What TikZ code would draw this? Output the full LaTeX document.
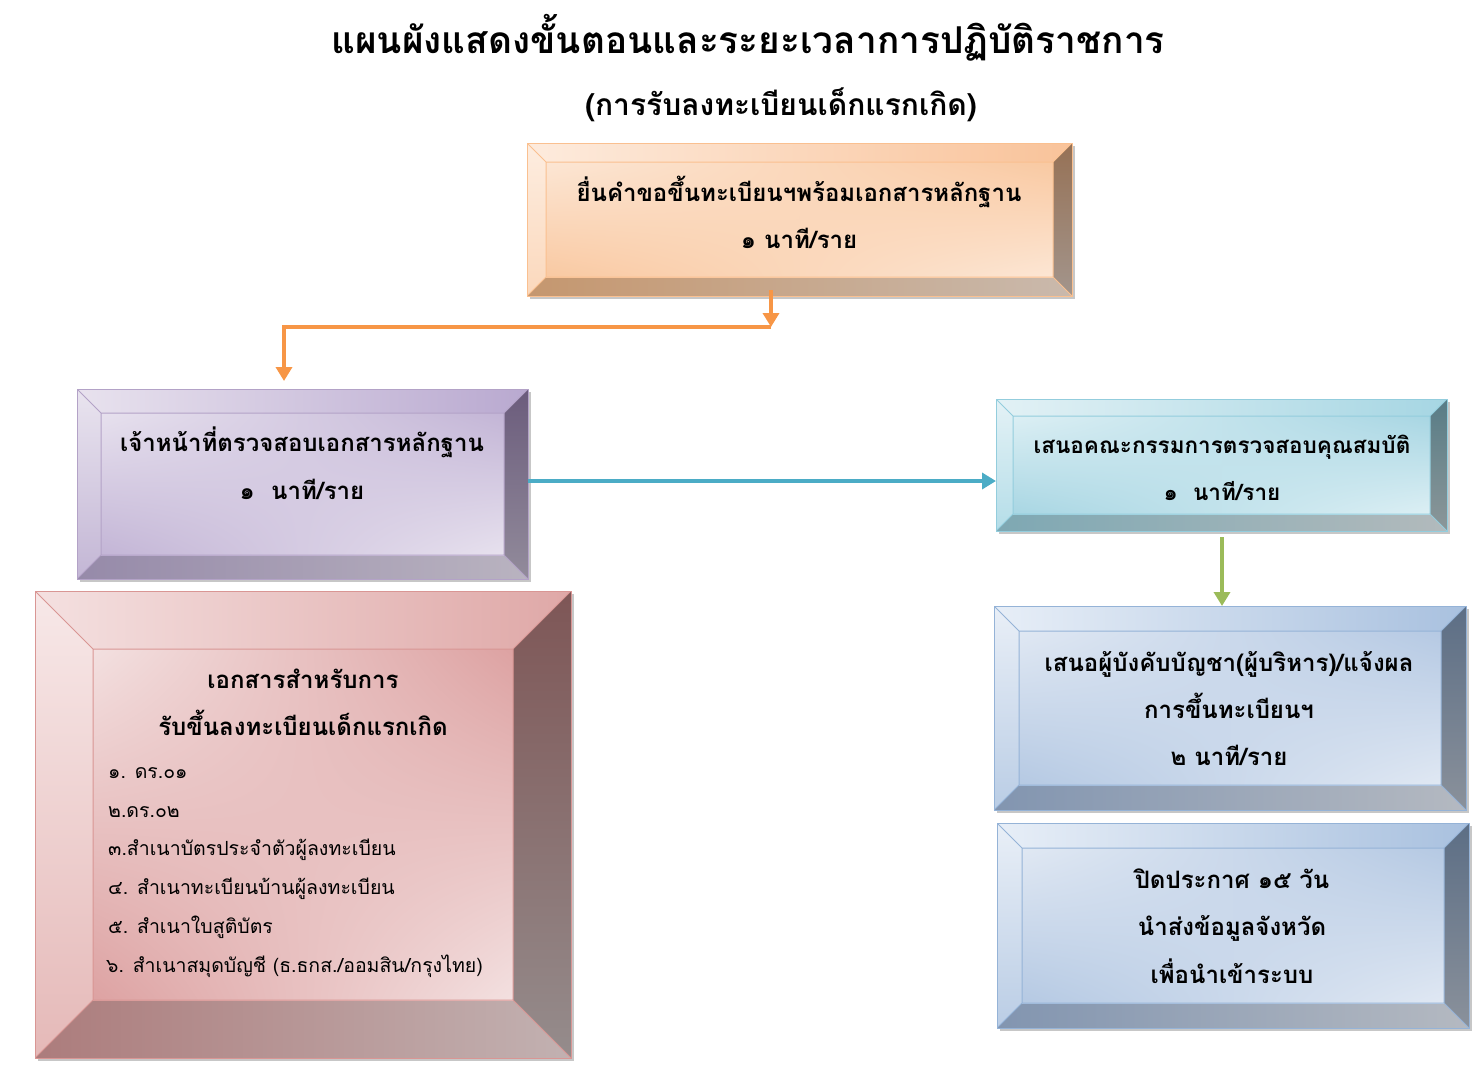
\documentclass[tikz,border=0pt]{standalone}
\usepackage{fontspec}
\newfontfamily\thai[Script=Thai]{Loma}
\usetikzlibrary{calc,shadows,shadings,arrows.meta}

% orange
\definecolor{orBd}{HTML}{FAC090}
\definecolor{orTa}{HTML}{FDEBDD}\definecolor{orTb}{HTML}{F9C39A}
\definecolor{orLa}{HTML}{FDEDE0}\definecolor{orLb}{HTML}{FBD8BC}
\definecolor{orRa}{HTML}{967155}\definecolor{orRb}{HTML}{A3958C}
\definecolor{orBa}{HTML}{C5976F}\definecolor{orBb}{HTML}{C9B9AC}
\definecolor{orIa}{HTML}{FCE6D4}\definecolor{orIb}{HTML}{F9C9A2}
% purple
\definecolor{puBd}{HTML}{B3A2C7}
\definecolor{puTa}{HTML}{E8E2EE}\definecolor{puTb}{HTML}{B9A9D0}
\definecolor{puLa}{HTML}{E9E4EF}\definecolor{puLb}{HTML}{C3B6D5}
\definecolor{puRa}{HTML}{6B5C7C}\definecolor{puRb}{HTML}{928B9B}
\definecolor{puBa}{HTML}{968AA9}\definecolor{puBb}{HTML}{B9B3C0}
\definecolor{puIa}{HTML}{E7E1EE}\definecolor{puIb}{HTML}{C3B5D6}
% pink
\definecolor{piBd}{HTML}{D99694}
\definecolor{piTa}{HTML}{F4E0E0}\definecolor{piTb}{HTML}{DFA8A7}
\definecolor{piLa}{HTML}{F7E8E8}\definecolor{piLb}{HTML}{E5B9B8}
\definecolor{piRa}{HTML}{7E5656}\definecolor{piRb}{HTML}{958C8C}
\definecolor{piBa}{HTML}{AC7C7C}\definecolor{piBb}{HTML}{C2B1B1}
\definecolor{piIa}{HTML}{F3E0E0}\definecolor{piIb}{HTML}{DDA2A2}
% cyan
\definecolor{cyBd}{HTML}{93CDDD}
\definecolor{cyTa}{HTML}{E2F1F5}\definecolor{cyTb}{HTML}{A6D6E3}
\definecolor{cyLa}{HTML}{E4F2F6}\definecolor{cyLb}{HTML}{B4DDE8}
\definecolor{cyRa}{HTML}{587C86}\definecolor{cyRb}{HTML}{8C9799}
\definecolor{cyBa}{HTML}{7EA8B3}\definecolor{cyBb}{HTML}{B2BABC}
\definecolor{cyIa}{HTML}{DCEFF4}\definecolor{cyIb}{HTML}{A8D6E3}
% blue
\definecolor{blBd}{HTML}{95B3D7}
\definecolor{blTa}{HTML}{E7EEF7}\definecolor{blTb}{HTML}{A9C1DF}
\definecolor{blLa}{HTML}{E9EFF7}\definecolor{blLb}{HTML}{BACDE5}
\definecolor{blRa}{HTML}{5C6E85}\definecolor{blRb}{HTML}{8A919B}
\definecolor{blBa}{HTML}{8295B0}\definecolor{blBb}{HTML}{B4B9C1}
\definecolor{blIa}{HTML}{E0E8F3}\definecolor{blIb}{HTML}{B5C9E3}

\definecolor{arOr}{HTML}{F79646}
\definecolor{arTe}{HTML}{4BACC6}
\definecolor{arGr}{HTML}{9BBB59}

\tikzset{
  bevbox/.style 2 args={
    inner sep=0pt, outer sep=0pt, line width=1pt, draw=#1Bd,
    drop shadow={shadow xshift=3pt, shadow yshift=-3pt, fill=black!40, opacity=.55},
    path picture={
      \coordinate (pNW) at (path picture bounding box.north west);
      \coordinate (pNE) at (path picture bounding box.north east);
      \coordinate (pSW) at (path picture bounding box.south west);
      \coordinate (pSE) at (path picture bounding box.south east);
      \coordinate (iNW) at ($(pNW)+(#2pt,-#2pt)$);
      \coordinate (iNE) at ($(pNE)+(-#2pt,-#2pt)$);
      \coordinate (iSW) at ($(pSW)+(#2pt,#2pt)$);
      \coordinate (iSE) at ($(pSE)+(-#2pt,#2pt)$);
      \shade[left color=#1Ta, right color=#1Tb] (pNW)--(pNE)--(iNE)--(iNW)--cycle;
      \shade[top color=#1La, bottom color=#1Lb] (pNW)--(iNW)--(iSW)--(pSW)--cycle;
      \shade[top color=#1Ra, bottom color=#1Rb] (pNE)--(pSE)--(iSE)--(iNE)--cycle;
      \shade[left color=#1Ba, right color=#1Bb] (pSW)--(iSW)--(iSE)--(pSE)--cycle;
      \shade[upper left=#1Ia, upper right=#1Ib, lower left=#1Ib, lower right=#1Ia] (iNW) rectangle (iSE);
      \draw[#1Bd, line width=1pt] (iNW) rectangle (iSE)
        (pNW)--(iNW) (pNE)--(iNE) (pSW)--(iSW) (pSE)--(iSE);
    }
  },
  ttl/.style={font=\thai\bfseries\fontsize{37}{42}\selectfont, inner sep=0pt, anchor=base},
  sub/.style={font=\thai\bfseries\fontsize{30}{34}\selectfont, inner sep=0pt, anchor=base},
  txt/.style={font=\thai\bfseries\fontsize{24}{28}\selectfont, inner sep=0pt, anchor=base},
  txs/.style={font=\thai\bfseries\fontsize{22.5}{27}\selectfont, inner sep=0pt, anchor=base},
  lst/.style={font=\thai\fontsize{19.5}{24}\selectfont, inner sep=0pt, anchor=base west},
  arr/.style={line width=3.5pt, -{Triangle[length=14pt, width=16pt]}},
}

\begin{document}
\begin{tikzpicture}[x=1pt, y=-1pt]
\useasboundingbox (0,0) rectangle (1477,1066);

% boxes
\node[bevbox={or}{19}, minimum width=545pt, minimum height=153pt] (b1) at (799.5,219.5) {};
\node[bevbox={pu}{24}, minimum width=451pt, minimum height=190pt] (b2) at (302.5,484) {};
\node[bevbox={pi}{58}, minimum width=536pt, minimum height=467pt] (b3) at (303,824.5) {};
\node[bevbox={cy}{17}, minimum width=451pt, minimum height=132pt] (b4) at (1221.5,465) {};
\node[bevbox={bl}{25}, minimum width=472pt, minimum height=204pt] (b5) at (1230,708) {};
\node[bevbox={bl}{25}, minimum width=472pt, minimum height=205pt] (b6) at (1233,925.5) {};

% title
\node[ttl] (t1) at (748,53) {แผนผังแสดงขั้นตอนและระยะเวลาการปฏิบัติราชการ};
\node[sub] (t2) at (781,115) {(การรับลงทะเบียนเด็กแรกเกิด)};

% box texts
\node[txt] (b1a) at (799,201) {ยื่นคำขอขึ้นทะเบียนฯพร้อมเอกสารหลักฐาน};
\node[txt] (b1b) at (799,248) {๑ นาที/ราย};
\node[txt] (b2a) at (302,451) {เจ้าหน้าที่ตรวจสอบเอกสารหลักฐาน};
\node[txt] (b2b) at (302,499) {๑\ \ นาที/ราย};
\node[txt] (b3a) at (303,688) {เอกสารสำหรับการ};
\node[txt] (b3b) at (303,735) {รับขึ้นลงทะเบียนเด็กแรกเกิด};
\node[lst] (l1) at (108,778) {๑. ดร.๐๑};
\node[lst] (l2) at (108,817) {๒.ดร.๐๒};
\node[lst] (l3) at (108,855) {๓.สำเนาบัตรประจำตัวผู้ลงทะเบียน};
\node[lst] (l4) at (108,894) {๔. สำเนาทะเบียนบ้านผู้ลงทะเบียน};
\node[lst] (l5) at (108,933) {๕. สำเนาใบสูติบัตร};
\node[lst] (l6) at (106,972) {๖. สำเนาสมุดบัญชี (ธ.ธกส./ออมสิน/กรุงไทย)};
\node[txs] (b4a) at (1222,453) {เสนอคณะกรรมการตรวจสอบคุณสมบัติ};
\node[txs] (b4b) at (1222,500) {๑\ \ นาที/ราย};
\node[txt] (b5a) at (1229,671) {เสนอผู้บังคับบัญชา(ผู้บริหาร)/แจ้งผล};
\node[txt] (b5b) at (1229,718) {การขึ้นทะเบียนฯ};
\node[txt] (b5c) at (1229,765) {๒ นาที/ราย};
\node[txt] (b6a) at (1232,888) {ปิดประกาศ ๑๕ วัน};
\node[txt] (b6b) at (1232,935) {นำส่งข้อมูลจังหวัด};
\node[txt] (b6c) at (1232,983) {เพื่อนำเข้าระบบ};

% connectors
\coordinate (bendR) at (771,327);
\coordinate (bendL) at (284,327);
\coordinate (tealy) at (0,481);
\coordinate (grx) at (1222,0);
\draw[arr, arOr] (b1.south -| bendR) ++(0pt,6pt) -- (bendR);
\draw[arr, arOr, line join=miter, shorten >=8pt] (bendR) -- (bendL) -- (b2.north -| bendL);
\draw[arr, arTe] (b2.east |- tealy) -- (b4.west |- tealy);
\draw[arr, arGr, shorten <=6pt] (b4.south -| grx) -- (b5.north -| grx);
\end{tikzpicture}
\end{document}
